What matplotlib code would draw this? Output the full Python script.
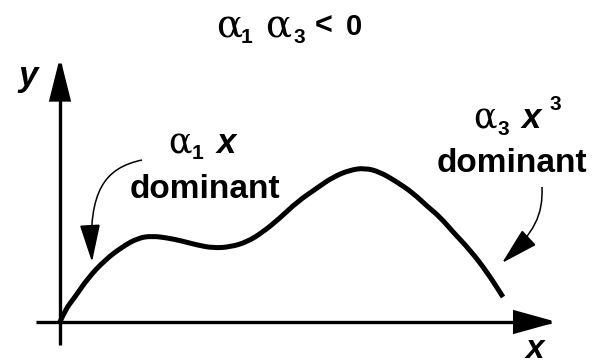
import matplotlib.pyplot as plt
from matplotlib.path import Path
from matplotlib.patches import PathPatch, FancyArrowPatch

# response curve y(x), origin at the axis crossing
curve_x = [0, 5, 15, 28, 45, 62, 78, 92, 108, 122, 137, 153, 170, 187, 203,
           220, 237, 257, 273, 290, 305, 320, 337, 353, 368, 380, 393, 410, 427, 443]
curve_y = [0, 12, 25, 44, 62, 75, 84, 86, 84, 81, 77, 74, 75, 80, 90,
           104, 120, 134, 145, 152, 154, 150, 140, 129, 115, 105, 90, 72, 50, 25]

title_parts = ["\u03b1", "1", "\u03b1", "3", "<", "0"]
left_label = ["\u03b1", "1", "x", "dominant"]
right_label = ["\u03b1", "3", "x", "3", "dominant"]

SANS = "Liberation Sans"
SERIF = "DejaVu Serif"

fig = plt.figure(figsize=(5.94, 3.64), dpi=100)
ax = fig.add_axes([0, 0, 1, 1])
ax.set_xlim(-60, 534)
ax.set_ylim(-42, 322)
ax.axis('off')

def arrow(path, lw, hl, hw):
  a = FancyArrowPatch(path=path, arrowstyle='-|>,head_length=%g,head_width=%g' % (hl, hw),
                      mutation_scale=1, lw=lw, color='black', shrinkA=0, shrinkB=0,
                      capstyle='butt', joinstyle='miter')
  ax.add_patch(a)

# coordinate axes
arrow(Path([(-24, 0), (497, 0)]), 2.4, 26, 7.2)
arrow(Path([(0, -23), (0, 265)]), 2.4, 26, 6.5)

# smooth curve through the read points (quadratic segments via midpoints)
pts = list(zip(curve_x, curve_y))
verts = [pts[0]]
codes = [Path.MOVETO]
for i in range(1, len(pts) - 1):
  mid = ((pts[i][0] + pts[i + 1][0]) / 2, (pts[i][1] + pts[i + 1][1]) / 2)
  verts += [pts[i], mid]
  codes += [Path.CURVE3, Path.CURVE3]
verts.append(pts[-1])
codes.append(Path.LINETO)
ax.add_patch(PathPatch(Path(verts, codes), fill=False, lw=3.6, color='black',
                       capstyle='butt', joinstyle='round'))

# pointer arrows
c4 = [Path.MOVETO, Path.CURVE4, Path.CURVE4, Path.CURVE4]
arrow(Path([(82, 162), (45, 154), (28, 132), (32, 60)], c4), 1.1, 24, 6.5)
arrow(Path([(482, 135), (483, 107), (475, 90), (442, 59)], c4), 1.1, 24, 6.5)

def sym(x, y, s, size=28):
  ax.text(x, y, s, fontsize=size, family=SERIF, ha='left', va='baseline')

def txt(x, y, s, size, style='normal', ha='left'):
  ax.text(x, y, s, fontsize=size, family=SANS, weight='bold', style=style,
          ha=ha, va='baseline')

# title: a1 a3 < 0
sym(156, 285, title_parts[0])
txt(181, 279, title_parts[1], 15)
sym(205, 285, title_parts[2])
txt(233, 279, title_parts[3], 15)
txt(255, 287, title_parts[4], 22)
txt(286, 287, title_parts[5], 21)

# axis names
txt(-42, 236, "y", 25, style='italic')
txt(465, -36, "x", 24, style='italic')

# left annotation
sym(108, 169, left_label[0], 25)
txt(132, 163, left_label[1], 15)
txt(157, 169, left_label[2], 25, style='italic')
txt(145, 124, left_label[3], 24, ha='center')

# right annotation
sym(413, 194, right_label[0], 25)
txt(438, 187, right_label[1], 15)
txt(462, 194, right_label[2], 25, style='italic')
txt(490, 212, right_label[3], 15)
txt(452, 150, right_label[4], 24, ha='center')

fig.savefig('out.png', dpi=100)
